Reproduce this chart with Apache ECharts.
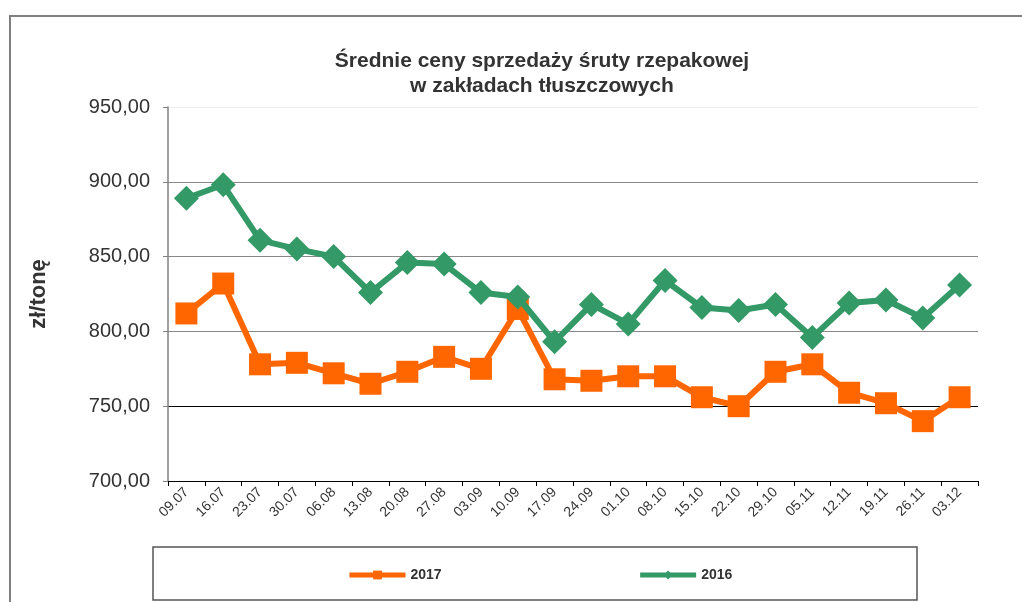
<!DOCTYPE html>
<html><head><meta charset="utf-8">
<script src="https://cdn.jsdelivr.net/npm/echarts@6/dist/echarts.min.js"></script>
<style>html,body{margin:0;padding:0;background:#fff}#c{width:1022px;height:602px}</style>
</head><body><div id="c"></div>
<script>
const categories = ['09.07','16.07','23.07','30.07','06.08','13.08','20.08','27.08','03.09','10.09','17.09','24.09','01.10','08.10','15.10','22.10','29.10','05.11','12.11','19.11','26.11','03.12'];
const values2017 = [812,832,778,779,772,765,773,783,775,815,768,767,770,770,756,750,773,778,759,752,740,756];
const values2016 = [889,898,861,855,850,826,846,845,826,823,793,818,805,834,816,814,818,796,819,821,809,831];
const yTicks = [700,750,800,850,900,950];

const chart = echarts.init(document.getElementById('c'));
const F = '"Liberation Sans", Arial, sans-serif';
chart.setOption({
  animation:false,
  backgroundColor:'#fff',
  title:{
    text:'Średnie ceny sprzedaży śruty rzepakowej\nw zakładach tłuszczowych',
    left:537, top:44, textAlign:'center',
    textStyle:{fontFamily:F,fontSize:21,fontWeight:'bold',color:'#333',lineHeight:25}
  },
  graphic:[
    {type:'polyline',shape:{points:[[10,602],[10,16],[1022,16]]},style:{stroke:'#808080',lineWidth:2,fill:null}},
    {type:'rect',shape:{x:153,y:547,width:764,height:53},style:{stroke:'#555',lineWidth:1.5,fill:null},z:-1}
  ],
  legend:{
    left:342, top:563, itemWidth:56, itemHeight:11, itemGap:196,
    textStyle:{fontFamily:F,fontSize:14,fontWeight:'bold',color:'#333'},
    data:[
      {name:'2017',lineStyle:{width:5}},
      {name:'2016',lineStyle:{width:5}}
    ]
  },
  grid:{left:168,right:44,top:107,bottom:121},
  xAxis:{
    type:'category', data:categories, boundaryGap:true,
    axisLine:{lineStyle:{color:'#000',width:1}},
    axisTick:{show:true,length:5,lineStyle:{color:'#000'}},
    axisLabel:{rotate:45,fontFamily:F,fontSize:14,color:'#333',margin:9,interval:0}
  },
  yAxis:{
    type:'value', min:700, max:950, interval:50,
    name:'zł/tonę', nameLocation:'middle', nameGap:118, nameRotate:90,
    nameTextStyle:{fontFamily:F,fontSize:22,fontWeight:'bold',color:'#333'},
    axisLine:{show:true,lineStyle:{color:'#808080',width:1.5}},
    axisTick:{show:true,length:5,lineStyle:{color:'#808080'}},
    axisLabel:{fontFamily:F,fontSize:20,color:'#333',margin:18,
      formatter:v=>v.toFixed(2).replace('.',',')},
    splitLine:{show:true,lineStyle:{color:['#000','#000','#888','#888','#888','#eee'],width:1.2}}
  },
  series:[
    {name:'2017',type:'line',data:values2017,symbol:'rect',symbolSize:22,
      lineStyle:{color:'#FF6600',width:6},itemStyle:{color:'#FF6600'},z:2},
    {name:'2016',type:'line',data:values2016,symbol:'diamond',symbolSize:25,
      lineStyle:{color:'#339966',width:6},itemStyle:{color:'#339966'},z:3}
  ]
});
</script></body></html>
